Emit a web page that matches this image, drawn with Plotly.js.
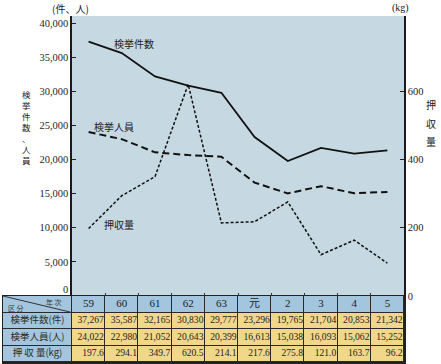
<!DOCTYPE html>
<html>
<head>
<meta charset="utf-8">
<script src="https://cdn.plot.ly/plotly-3.0.1.min.js"></script>
<style>html,body{margin:0;padding:0;background:#fff;}#chart{width:441px;height:364px;}</style>
</head>
<body>
<div id="chart"></div>
<script>
// ---- data ----
const years = ['59', '60', '61', '62', '63', '元', '2', '3', '4', '5'];
const cases = [37267, 35587, 32165, 30830, 29777, 23296, 19765, 21704, 20853, 21342];
const persons = [24022, 22980, 21052, 20643, 20399, 16613, 15038, 16093, 15062, 15252];
const seized = [197.6, 294.1, 349.7, 620.5, 214.1, 217.6, 275.8, 121.0, 163.7, 96.2];
const rowLabels = ['検挙件数(件)', '検挙人員(人)', '押 収 量(kg)'];
const yTicksLeft = [0, 5000, 10000, 15000, 20000, 25000, 30000, 35000, 40000];
const yTicksRight = [0, 200, 400, 600];

// ---- layout constants ----
const W = 441, H = 364;
const px = v => v / W, py = v => 1 - v / H;
const serif = 'Liberation Serif, DejaVu Serif, Noto Sans CJK JP, serif';
const cjk = 'Noto Sans CJK JP, sans-serif';
const ink = '#1e1e1e';
const idx = years.map((_, i) => i);

const fmt = v => v.toLocaleString('en-US');
const fmtKg = v => v.toFixed(1);

const traces = [];

// ---- table (subplot x/y, drawn first) ----
const labelColLeft = -0.5 - 69 / 33.2;
const xEdges = [labelColLeft].concat(idx.map(i => i - 0.5), [years.length - 0.5]);
const yEdges = [0, 1, 2, 3, 4];
const zCells = [0, 1, 2, 3].map(r => xEdges.slice(0, -1).map((_, c) => (r === 0 || c === 0) ? 0 : 1));
traces.push({type: 'heatmap', x: xEdges, y: yEdges, z: zCells, xaxis: 'x', yaxis: 'y',
  zmin: 0, zmax: 1, showscale: false, xgap: 1, ygap: 1, hoverinfo: 'skip',
  colorscale: [[0, '#a3c5dd'], [0.5, '#a3c5dd'], [0.5, '#f1d78a'], [1, '#f1d78a']]});
// header years
traces.push({type: 'scatter', mode: 'text', x: idx, y: idx.map(() => 0.5), text: years,
  xaxis: 'x', yaxis: 'y', textposition: 'middle center', hoverinfo: 'skip',
  textfont: {family: serif, size: 11, color: ink}});
// data rows
const rows = [cases.map(fmt), persons.map(fmt), seized.map(fmtKg)];
rows.forEach((r, k) => {
  traces.push({type: 'scatter', mode: 'text', x: idx.map(i => i + 0.46), y: idx.map(() => k + 1.5), text: r,
    xaxis: 'x', yaxis: 'y', textposition: 'middle left', hoverinfo: 'skip',
    textfont: {family: serif, size: 9.6, color: ink}});
});
// row labels
traces.push({type: 'scatter', mode: 'text', x: rowLabels.map(() => (labelColLeft - 0.5) / 2),
  y: rowLabels.map((_, k) => k + 1.5), text: rowLabels, xaxis: 'x', yaxis: 'y',
  textposition: 'middle center', hoverinfo: 'skip', textfont: {family: cjk, size: 9.5, color: '#2a2a2a'}});

// ---- chart (subplot x2/y2 + y3) ----
traces.push({x: idx, y: cases, type: 'scatter', mode: 'lines', xaxis: 'x2', yaxis: 'y2',
  line: {color: '#111', width: 1.8}, hoverinfo: 'skip'});
traces.push({x: idx, y: persons, type: 'scatter', mode: 'lines', xaxis: 'x2', yaxis: 'y2',
  line: {color: '#111', width: 2, dash: '7px,4px'}, hoverinfo: 'skip'});
traces.push({x: idx, y: seized, type: 'scatter', mode: 'lines', xaxis: 'x2', yaxis: 'y3',
  line: {color: '#111', width: 1.5, dash: '3px,2px'}, hoverinfo: 'skip'});

const shapes = [
  {type: 'rect', xref: 'x', yref: 'y', x0: xEdges[0], x1: xEdges[xEdges.length - 1], y0: 0, y1: 4,
    fillcolor: '#2a2a2a', line: {width: 0}, layer: 'below'},
  {type: 'line', xref: 'x', yref: 'y', x0: xEdges[0], y0: 0, x1: xEdges[1], y1: 1,
    line: {color: '#333', width: 1}}
];

function note(text, x, y, size, family, color) {
  return {text: text, x: px(x), y: py(y), xref: 'paper', yref: 'paper', xanchor: 'center', yanchor: 'middle',
    showarrow: false, font: {family: family || cjk, size: size || 10, color: color || '#222'}};
}
const annotations = [
  note('検挙件数', 134, 43),
  note('検挙人員', 114, 126),
  note('押収量', 119, 224),
  note('(件、人)', 70, 8),
  note('(kg)', 400, 8, 10, serif),
  note('年 次', 54, 302, 7, cjk, '#333'),
  note('区 分', 16, 308, 7, cjk, '#333'),
  note('検<br>挙<br>件<br>数<br>、<br>人<br>員', 26, 127, 8.5)
];
['押', '収', '量'].forEach((ch, i) => annotations.push(note(ch, 431, 105 + 18.5 * i, 10)));

// the bottom "0" label sits just above the table edge
const leftTickText = yTicksLeft.map(v => v === 0 ? '0<br> ' : fmt(v));

const yTop = 40000 * (296 - 16) / (296 - 23);
const layout = {
  width: W, height: H,
  margin: {l: 0, r: 0, t: 0, b: 0},
  paper_bgcolor: '#ffffff',
  plot_bgcolor: '#c6d8e2',
  showlegend: false,
  font: {family: serif, color: ink},
  xaxis: {domain: [px(3), px(404)], range: [xEdges[0], xEdges[xEdges.length - 1]], anchor: 'y',
    showticklabels: false, ticks: '', showgrid: false, zeroline: false,
    showline: true, mirror: true, linecolor: '#222', linewidth: 1.5, fixedrange: true},
  yaxis: {domain: [py(362), py(296)], range: [4, 0], anchor: 'x',
    showticklabels: false, ticks: '', showgrid: false, zeroline: false,
    showline: true, mirror: true, linecolor: '#222', linewidth: 1.5, fixedrange: true},
  xaxis2: {domain: [px(72), px(404)], range: [-0.5, years.length - 0.5], anchor: 'y2',
    tickvals: idx.slice(0, -1).map(i => i + 0.5), ticks: 'inside', ticklen: 3, tickcolor: '#333',
    showticklabels: false, showgrid: false, zeroline: false, showline: false, fixedrange: true},
  yaxis2: {domain: [py(296), py(16)], range: [0, yTop], anchor: 'x2',
    tickvals: yTicksLeft, ticktext: leftTickText, ticks: 'inside', ticklen: 4, tickcolor: '#222',
    showline: true, linecolor: '#1a1a1a', linewidth: 1.6, showgrid: false, zeroline: false,
    tickfont: {family: serif, size: 10.5, color: ink}, fixedrange: true},
  yaxis3: {overlaying: 'y2', side: 'right', anchor: 'x2', range: [0, yTop / 50],
    tickvals: yTicksRight, ticks: 'inside', ticklen: 4, tickcolor: '#222',
    showline: true, linecolor: '#1a1a1a', linewidth: 1.6, showgrid: false, zeroline: false,
    tickfont: {family: serif, size: 10.5, color: ink}, fixedrange: true},
  shapes: shapes,
  annotations: annotations
};

Plotly.newPlot('chart', traces, layout, {displayModeBar: false, staticPlot: true});
</script>
</body>
</html>
